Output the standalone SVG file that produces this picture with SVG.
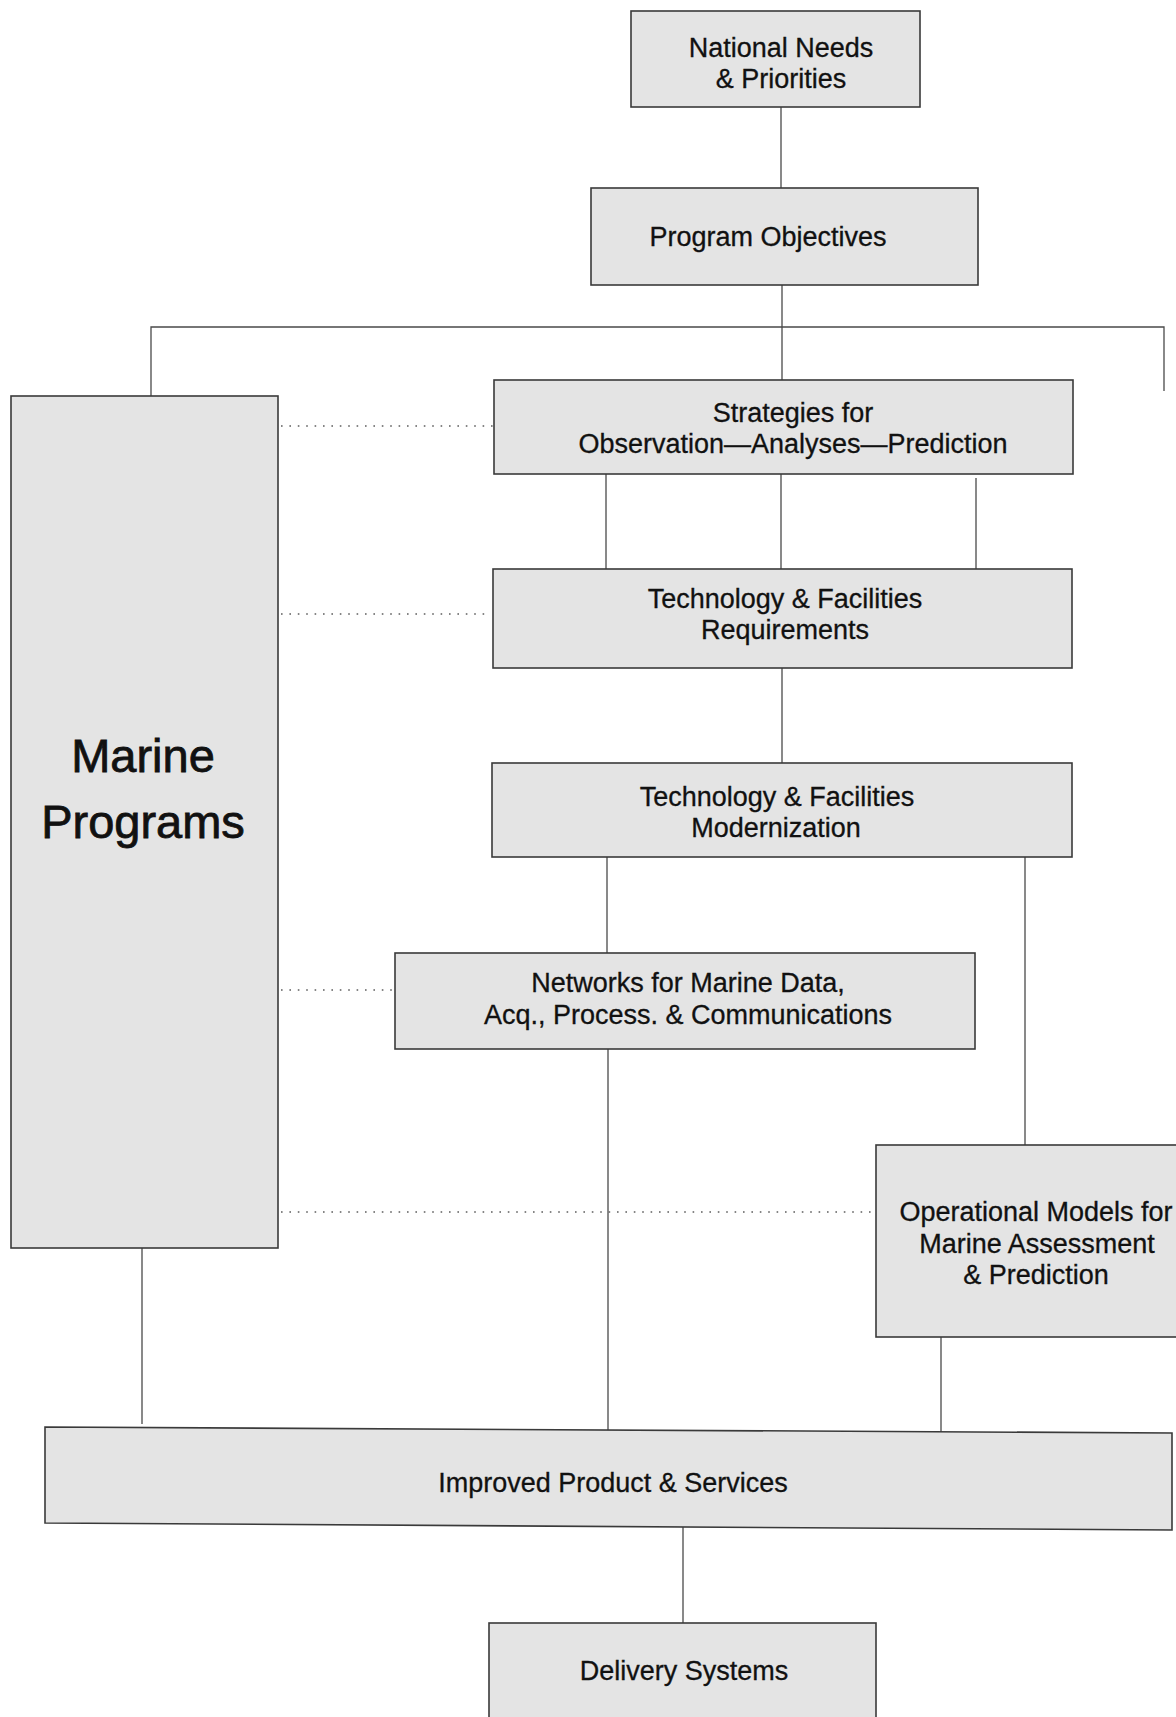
<svg xmlns="http://www.w3.org/2000/svg" width="1176" height="1717" viewBox="0 0 1176 1717">
<style>
.box{fill:#e4e4e4;stroke:#3a3a3a;stroke-width:1.6}
.ln{stroke:#4a4a4a;stroke-width:1.3;fill:none}
.dot{stroke:#5e5e5e;stroke-width:1.7;fill:none;stroke-dasharray:1.6 6.8}
.t{font-family:"Liberation Sans",Arial,sans-serif;font-size:27px;fill:#111;stroke:#111;stroke-width:0.3;text-anchor:middle}
.big{font-family:"Liberation Sans",Arial,sans-serif;font-size:47px;fill:#111;stroke:#111;stroke-width:0.8;text-anchor:middle}
</style>
<rect width="1176" height="1717" fill="#ffffff"/>
<g id="connectors">
<line class="ln" x1="781" y1="107" x2="781" y2="188"/>
<line class="ln" x1="782" y1="285" x2="782" y2="380"/>
<polyline class="ln" points="151,396 151,327 1164,327 1164,391"/>
<line class="ln" x1="606" y1="474" x2="606" y2="569"/>
<line class="ln" x1="781" y1="474" x2="781" y2="569"/>
<line class="ln" x1="976" y1="478" x2="976" y2="569"/>
<line class="ln" x1="782" y1="668" x2="782" y2="763"/>
<line class="ln" x1="607" y1="857" x2="607" y2="953"/>
<line class="ln" x1="1025" y1="857" x2="1025" y2="1146"/>
<line class="ln" x1="608" y1="1049" x2="608" y2="1430"/>
<line class="ln" x1="941" y1="1337" x2="941" y2="1432"/>
<line class="ln" x1="142" y1="1248" x2="142" y2="1424"/>
<line class="ln" x1="683" y1="1527" x2="683" y2="1623"/>
<line class="dot" x1="281" y1="426" x2="494" y2="426"/>
<line class="dot" x1="281" y1="614" x2="487" y2="614"/>
<line class="dot" x1="281" y1="990" x2="394" y2="990"/>
<line class="dot" x1="281" y1="1212" x2="873" y2="1212"/>
</g>
<g id="national-needs">
<rect class="box" x="631" y="11" width="289" height="96"/>
<text class="t" x="781" y="57">National Needs</text>
<text class="t" x="781" y="88">&amp; Priorities</text>
</g>
<g id="program-objectives">
<rect class="box" x="591" y="188" width="387" height="97"/>
<text class="t" x="768" y="246">Program Objectives</text>
</g>
<g id="strategies">
<rect class="box" x="494" y="380" width="579" height="94"/>
<text class="t" x="793" y="422">Strategies for</text>
<text class="t" x="793" y="453">Observation—Analyses—Prediction</text>
</g>
<g id="tech-requirements">
<rect class="box" x="493" y="569" width="579" height="99"/>
<text class="t" x="785" y="608">Technology &amp; Facilities</text>
<text class="t" x="785" y="639">Requirements</text>
</g>
<g id="tech-modernization">
<rect class="box" x="492" y="763" width="580" height="94"/>
<text class="t" x="777" y="806">Technology &amp; Facilities</text>
<text class="t" x="776" y="837">Modernization</text>
</g>
<g id="networks">
<rect class="box" x="395" y="953" width="580" height="96"/>
<text class="t" x="688" y="992">Networks for Marine Data,</text>
<text class="t" x="688" y="1024">Acq., Process. &amp; Communications</text>
</g>
<g id="operational-models">
<rect class="box" x="876" y="1145" width="304" height="192"/>
<text class="t" x="1036" y="1221">Operational Models for</text>
<text class="t" x="1037" y="1253">Marine Assessment</text>
<text class="t" x="1036" y="1284">&amp; Prediction</text>
</g>
<g id="marine-programs">
<rect class="box" x="11" y="396" width="267" height="852"/>
<text class="big" x="143" y="772">Marine</text>
<text class="big" x="143" y="838">Programs</text>
</g>
<g id="improved-products">
<polygon class="box" points="45,1427 1172,1433 1172,1530 45,1523"/>
<text class="t" x="613" y="1492">Improved Product &amp; Services</text>
</g>
<g id="delivery-systems">
<rect class="box" x="489" y="1623" width="387" height="110"/>
<text class="t" x="684" y="1680">Delivery Systems</text>
</g>
</svg>
